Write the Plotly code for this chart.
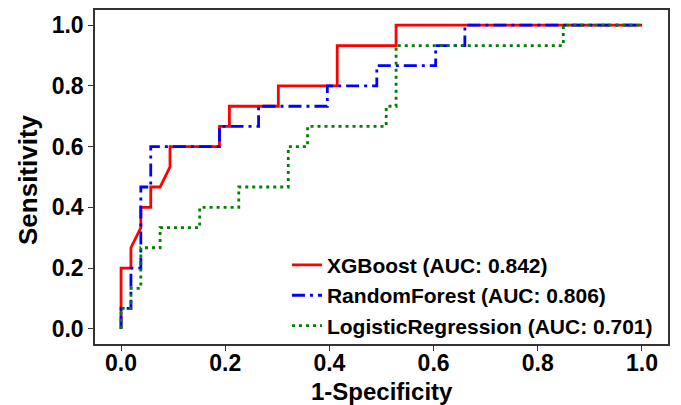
import plotly.graph_objects as go

# ROC points (1-Specificity, Sensitivity)
xgb_fpr = [0.0, 0.0, 0.019, 0.019, 0.038, 0.038, 0.057, 0.057, 0.075, 0.094, 0.094,
           0.189, 0.189, 0.208, 0.208, 0.302, 0.302, 0.415, 0.415, 0.528, 0.528, 1.0]
xgb_tpr = [0.0, 0.200, 0.200, 0.267, 0.333, 0.400, 0.400, 0.467, 0.467, 0.533, 0.600,
           0.600, 0.667, 0.667, 0.733, 0.733, 0.800, 0.800, 0.933, 0.933, 1.0, 1.0]

rf_fpr = [0.0, 0.0, 0.019, 0.019, 0.038, 0.038, 0.057, 0.057, 0.189, 0.189, 0.264,
          0.264, 0.396, 0.396, 0.491, 0.491, 0.604, 0.604, 0.660, 0.660, 1.0]
rf_tpr = [0.0, 0.067, 0.067, 0.200, 0.200, 0.467, 0.467, 0.600, 0.600, 0.667, 0.667,
          0.733, 0.733, 0.800, 0.800, 0.867, 0.867, 0.933, 0.933, 1.0, 1.0]

lr_fpr = [0.0, 0.0, 0.019, 0.019, 0.038, 0.038, 0.075, 0.075, 0.151, 0.151, 0.226,
          0.226, 0.321, 0.321, 0.358, 0.358, 0.509, 0.509, 0.528, 0.528, 0.849, 0.849, 1.0]
lr_tpr = [0.0, 0.067, 0.067, 0.133, 0.133, 0.267, 0.267, 0.333, 0.333, 0.400, 0.400,
          0.467, 0.467, 0.600, 0.600, 0.667, 0.667, 0.733, 0.733, 0.933, 0.933, 1.0, 1.0]

names = ["XGBoost (AUC: 0.842)", "RandomForest (AUC: 0.806)", "LogisticRegression (AUC: 0.701)"]
tick_vals = [0.0, 0.2, 0.4, 0.6, 0.8, 1.0]
tick_text = ["0.0", "0.2", "0.4", "0.6", "0.8", "1.0"]
x_title = "1-Specificity"
y_title = "Sensitivity"

FONT = "Liberation Sans, Arial, sans-serif"

fig = go.Figure()
fig.add_trace(go.Scatter(x=xgb_fpr, y=xgb_tpr, mode="lines", name=names[0],
                         line=dict(color="#ff0000", width=2.8)))
fig.add_trace(go.Scatter(x=rf_fpr, y=rf_tpr, mode="lines", name=names[1],
                         line=dict(color="#0000ff", width=2.8, dash="13px,5px,3px,5px")))
fig.add_trace(go.Scatter(x=lr_fpr, y=lr_tpr, mode="lines", name=names[2],
                         line=dict(color="#008000", width=2.8, dash="3px,4px")))

axis_common = dict(
    range=[-0.05, 1.05], tickvals=tick_vals, ticktext=tick_text, automargin=False,
    showgrid=False, zeroline=False, showline=True, linecolor="#333333", linewidth=1.5,
    mirror=True, ticks="outside", ticklen=5, tickcolor="#333333", tickwidth=1.2,
    tickfont=dict(family=FONT, size=23, color="black", weight="bold"),
)

fig.update_layout(
    width=681, height=405,
    margin=dict(l=95, r=13, t=10, b=61),
    paper_bgcolor="white", plot_bgcolor="white",
    font=dict(family=FONT, color="black"),
    xaxis=dict(**axis_common, ticklabelstandoff=-7),
    yaxis=dict(**axis_common),
    legend=dict(x=0.335, y=0.297, xanchor="left", yanchor="top",
                bgcolor="rgba(255,255,255,0)", borderwidth=0,
                font=dict(family=FONT, size=21, color="black", weight="bold"),
                tracegroupgap=0),
    showlegend=True,
)

fig.add_annotation(text="<b>" + x_title + "</b>", xref="paper", yref="paper",
                   x=0.5, y=0, xanchor="center", yanchor="middle", yshift=-47,
                   showarrow=False, font=dict(family=FONT, size=24, color="black"))
fig.add_annotation(text="<b>" + y_title + "</b>", xref="paper", yref="paper",
                   x=0, y=0.5, xanchor="center", yanchor="middle", xshift=-67, yshift=-3,
                   textangle=-90, showarrow=False,
                   font=dict(family=FONT, size=26, color="black"))

fig.write_html("out.html")
